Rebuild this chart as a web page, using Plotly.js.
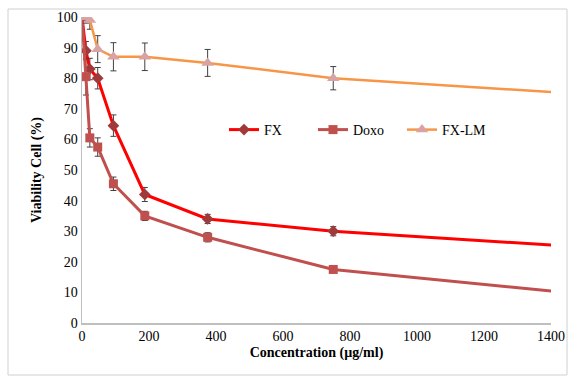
<!DOCTYPE html>
<html>
<head>
<meta charset="utf-8">
<script src="https://cdn.plot.ly/plotly-3.0.1.min.js"></script>
<style>
html,body{margin:0;padding:0;background:#fff;}
#chart{width:575px;height:381px;}
</style>
</head>
<body>
<div id="chart"></div>
<script>
// Concentrations (µg/ml)
const concentration = [0, 11.7, 23.4, 46.9, 93.75, 187.5, 375, 750, 1500];

// Viability (%) per series
const fxValues   = [100, 89, 83, 80, 64.5, 42, 34, 30, 24.8];
const fxErrors   = [0, 3, 3.5, 3.5, 3.5, 2.3, 1.5, 1.5, 0];

const doxoValues = [100, 80.5, 60.5, 57.5, 45.5, 35, 28, 17.5, 9.4];
const doxoErrors = [0, 6, 3, 3, 2.2, 1.5, 1.5, 1, 0];

const fxlmValues = [100, 100, 99, 89.5, 87, 87, 85, 80, 74.8];
const fxlmErrors = [0, 2, 3, 4.4, 4.6, 4.5, 4.4, 3.8, 0];

const seriesNames = ["FX", "Doxo", "FX-LM"];
const xTicks = [0, 200, 400, 600, 800, 1000, 1200, 1400];
const yTicks = [0, 10, 20, 30, 40, 50, 60, 70, 80, 90, 100];

const FONT = 'Liberation Serif';
const errStyle = {color: '#404040', thickness: 1, width: 3};

const traces = [
  {
    x: concentration, y: fxValues, name: seriesNames[0], type: 'scatter', mode: 'lines+markers',
    line: {color: '#FF0000', width: 3},
    marker: {symbol: 'diamond', size: 9, color: '#A03A3A'},
    error_y: Object.assign({type: 'data', array: fxErrors, visible: true}, errStyle)
  },
  {
    x: concentration, y: doxoValues, name: seriesNames[1], type: 'scatter', mode: 'lines+markers',
    line: {color: '#C0504D', width: 3},
    marker: {symbol: 'square', size: 9, color: '#C0504D'},
    error_y: Object.assign({type: 'data', array: doxoErrors, visible: true}, errStyle)
  },
  {
    x: concentration, y: fxlmValues, name: seriesNames[2], type: 'scatter', mode: 'lines+markers',
    line: {color: '#F79646', width: 2.5},
    marker: {symbol: 'triangle-up', size: 11, color: '#D9A3A3'},
    error_y: Object.assign({type: 'data', array: fxlmErrors, visible: true}, errStyle)
  }
];

const pl = 82, pr = 551, pt = 17, pb = 323;
const pw = pr - pl, ph = pb - pt;
function px(x){ return (x - pl) / pw; }
function py(y){ return (pb - y) / ph; }

const layout = {
  width: 575, height: 381,
  margin: {l: pl, r: 575 - pr, t: pt, b: 381 - pb},
  paper_bgcolor: '#FFFFFF', plot_bgcolor: '#FFFFFF',
  font: {family: FONT, size: 14, color: '#000'},
  showlegend: true,
  legend: {
    orientation: 'h', x: px(224), y: py(130), xanchor: 'left', yanchor: 'middle',
    font: {family: FONT, size: 14, color: '#000'},
    bgcolor: 'rgba(0,0,0,0)', itemwidth: 30, entrywidth: 44, entrywidthmode: 'pixels'
  },
  xaxis: {
    range: [0, 1400], tickvals: xTicks, ticktext: xTicks.map(String),
    showgrid: false, zeroline: false, showline: true, linecolor: '#BFBFBF', linewidth: 1.5,
    ticks: '', tickfont: {family: FONT, size: 14, color: '#000'}, automargin: false,
    title: {text: '<b>Concentration (µg/ml)</b>', font: {family: FONT, size: 14, color: '#000'}, standoff: 4}
  },
  yaxis: {
    range: [0, 100], tickvals: yTicks, ticktext: yTicks.map(String),
    showgrid: false, zeroline: false, showline: true, linecolor: '#BFBFBF', linewidth: 1.5,
    ticks: '', tickfont: {family: FONT, size: 14, color: '#000'}, automargin: false,
    title: {text: '<b>Viability Cell (%)</b>', font: {family: FONT, size: 14, color: '#000'}, standoff: 12}
  },
  shapes: [
    {type: 'rect', xref: 'paper', yref: 'paper',
     x0: px(8), x1: px(567), y0: py(375), y1: py(9),
     line: {color: '#D0D0D0', width: 1}, fillcolor: 'rgba(0,0,0,0)', layer: 'below'}
  ]
};

Plotly.newPlot('chart', traces, layout, {displayModeBar: false, staticPlot: true});
</script>
</body>
</html>
